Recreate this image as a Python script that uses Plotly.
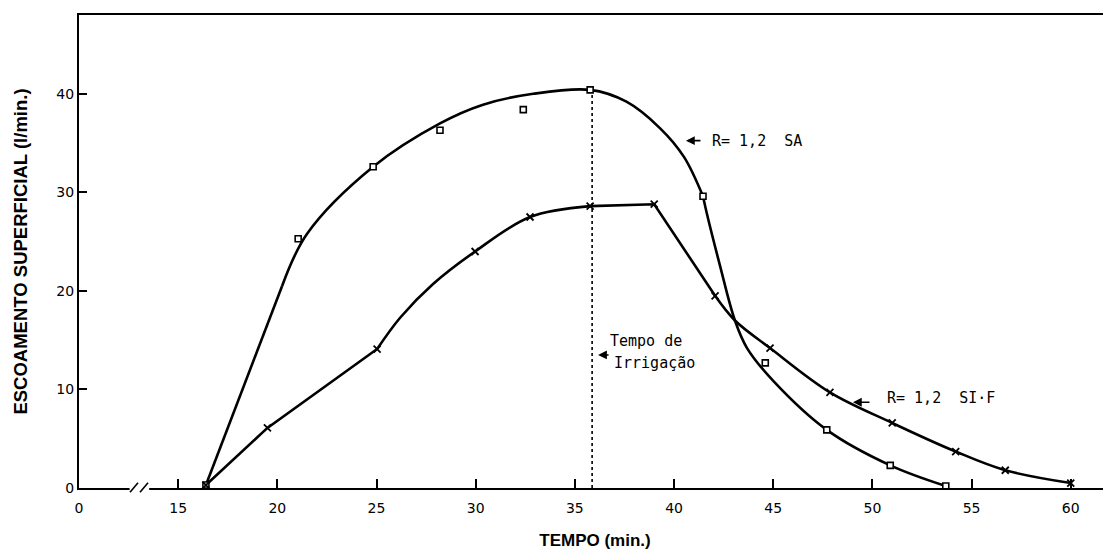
import plotly.graph_objects as go

# ---------------- data ----------------
# x axis: the "0" label sits at the axis break (placed at x=10 on a linear scale)
x_tickvals = [10, 15, 20, 25, 30, 35, 40, 45, 50, 55, 60]
x_ticktext = ["0", "15", "20", "25", "30", "35", "40", "45", "50", "55", "60"]
y_tickvals = [0, 10, 20, 30, 40]

# R = 1,2 SA  (square markers)
sa_x = [16.4, 21.05, 24.83, 28.2, 32.4, 35.77, 41.46, 44.6, 47.7, 50.9, 53.7]
sa_y = [0.3, 25.3, 32.6, 36.3, 38.4, 40.4, 29.6, 12.7, 5.9, 2.3, 0.2]

# R = 1,2 SIF  (x markers)
sif_x = [16.4, 19.5, 25.03, 29.97, 32.74, 35.77, 39.0, 42.07, 44.84, 47.86, 51.0, 54.2, 56.7, 60.0]
sif_y = [0.3, 6.1, 14.1, 24.0, 27.5, 28.6, 28.8, 19.5, 14.2, 9.7, 6.6, 3.7, 1.8, 0.5]

# fitted (hand-drawn) curves, split into segments: (shape, xs, ys)
sa_curve = [
    ("linear", [16.4, 20.24], [0.3, 20.5]),
    ("spline", [20.24, 21.5, 24.83, 28.2, 30.37, 32.9, 35.77, 37.6, 39.3, 40.5, 41.46],
               [20.5, 25.8, 32.6, 37.0, 38.9, 40.0, 40.4, 39.2, 36.5, 33.6, 29.6]),
    ("spline", [41.46, 41.66, 42.3, 43.07, 43.68, 44.99, 47.7, 50.9, 53.7],
               [29.6, 27.8, 22.7, 17.0, 14.2, 10.9, 5.9, 2.3, 0.2]),
]
sif_curve = [
    ("linear", [16.4, 19.5, 25.03], [0.3, 6.1, 14.1]),
    ("spline", [25.03, 26.2, 27.85, 29.97, 32.74, 35.77], [14.1, 17.3, 20.7, 24.0, 27.5, 28.6]),
    ("linear", [35.77, 39.0, 42.07], [28.6, 28.8, 19.5]),
    ("spline", [42.07, 43.07, 44.84, 47.86, 51.0, 54.2, 56.7, 60.0],
               [19.5, 17.0, 14.2, 9.7, 6.6, 3.7, 1.8, 0.5]),
]

# irrigation time marker
irrig_x = [35.87, 35.87]
irrig_y = [0, 40.4]

# ---------------- figure ----------------
fig = go.Figure()

for shape, xs, ys in sa_curve + sif_curve:
    fig.add_trace(go.Scatter(x=xs, y=ys, mode="lines",
                             line=dict(color="black", width=2.6, shape=shape, smoothing=1.0),
                             showlegend=False, hoverinfo="skip"))

fig.add_trace(go.Scatter(x=irrig_x, y=irrig_y, mode="lines",
                         line=dict(color="black", width=1.6, dash="dot"),
                         showlegend=False, hoverinfo="skip"))

fig.add_trace(go.Scatter(x=sa_x, y=sa_y, mode="markers", name="R= 1,2 SA",
                         marker=dict(symbol="square", size=6, color="white",
                                     line=dict(color="black", width=1.6)),
                         showlegend=False))
fig.add_trace(go.Scatter(x=sif_x, y=sif_y, mode="markers", name="R= 1,2 SIF",
                         marker=dict(symbol="x-thin", size=7,
                                     line=dict(color="black", width=1.8)),
                         showlegend=False))

lab_font = dict(family="DejaVu Sans Mono", size=15, color="black")

# arrows
for hx, hy, axp in [(40.6, 35.25, 16), (49.02, 8.7, 18), (36.17, 13.5, 12)]:
    fig.add_annotation(x=hx, y=hy, text="", showarrow=True, ax=axp, ay=0,
                       arrowhead=2, arrowsize=1.1, arrowwidth=1.6, arrowcolor="black")

fig.add_annotation(x=41.8, y=35.25, text="R= 1,2  SA", showarrow=False,
                   xanchor="left", yanchor="middle", font=lab_font)
fig.add_annotation(x=50.64, y=9.1, text="R= 1,2  SI·F", showarrow=False,
                   xanchor="left", yanchor="middle", font=lab_font)
fig.add_annotation(x=36.67, y=14.95, text="Tempo de", showarrow=False,
                   xanchor="left", yanchor="middle", font=lab_font)
fig.add_annotation(x=36.87, y=12.7, text="Irrigação", showarrow=False,
                   xanchor="left", yanchor="middle", font=lab_font)

# axis break on the x axis
fig.add_shape(type="rect", xref="paper", yref="paper", x0=0.049, x1=0.068, y0=-0.006, y1=0.006,
              fillcolor="white", line=dict(width=0), layer="above")
for x0p, x1p in [(130, 138), (140, 148)]:
    fig.add_shape(type="line", xref="paper", yref="paper",
                  x0=(x0p - 79) / 1032, x1=(x1p - 79) / 1032,
                  y0=-0.009, y1=0.011, line=dict(color="black", width=1.6), layer="above")

fig.update_layout(
    width=1111, height=552,
    margin=dict(l=71, r=8, t=5, b=72),
    plot_bgcolor="white", paper_bgcolor="white",
    font=dict(family="Liberation Sans", size=12, color="black"),
    xaxis=dict(range=[10, 62.03], tickvals=x_tickvals, ticktext=x_ticktext,
               ticks="inside", ticklen=9, tickwidth=1.6, tickcolor="black",
               showline=True, linecolor="black", linewidth=2, mirror=True,
               showgrid=False, zeroline=False, ticklabelstandoff=6,
               tickfont=dict(family="DejaVu Sans", size=14),
               title=dict(text="<b>TEMPO (min.)</b>", font=dict(family="Liberation Sans", size=17),
                          standoff=19)),
    yaxis=dict(range=[0, 48.0], tickvals=y_tickvals,
               ticks="inside", ticklen=8, tickwidth=1.6, tickcolor="black",
               showline=True, linecolor="black", linewidth=2,
               showgrid=False, zeroline=False,
               tickfont=dict(family="DejaVu Sans", size=14),
               title=dict(text="<b>ESCOAMENTO SUPERFICIAL (l/min.)</b>",
                          font=dict(family="Liberation Sans", size=18.5), standoff=24)),
)

fig.write_html("out.html")
